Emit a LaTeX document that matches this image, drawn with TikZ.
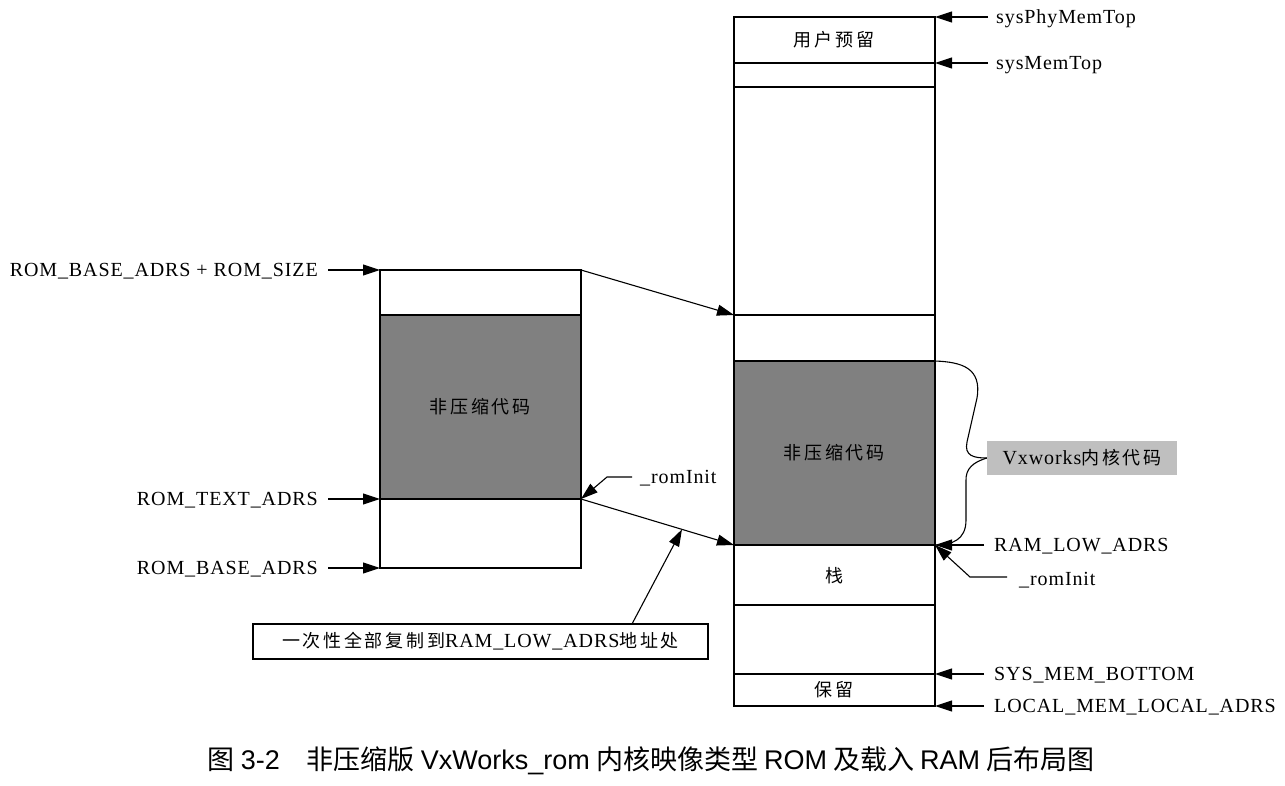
\documentclass[tikz,border=0pt]{standalone}
\usepackage{fontspec}
\setmainfont[LetterSpace=4.5]{Liberation Serif}
\newfontfamily\cjkFont[LetterSpace=15]{Noto Sans CJK SC}
\newfontfamily\captionCjk{Noto Sans CJK SC}
\newfontfamily\captionLatin{Liberation Sans}
\usetikzlibrary{positioning,calc,arrows.meta}
\tikzstyle{memMap} = [x = 1pt, y = -1pt]
\definecolor{codeGray}{RGB}{128,128,128}
\definecolor{tagGray}{RGB}{191,191,191}
\tikzstyle{cellStyle} = [draw=black, fill=white, line width=1.2pt]
\tikzstyle{codeCellStyle} = [draw=black, fill=codeGray, line width=1.2pt]
\tikzstyle{arrowLine} = [line width=1.1pt, -{Triangle[length=17pt, width=11pt]}]
\tikzstyle{plainLine} = [line width=1.1pt]
\tikzstyle{adrsLabel} = [font=\fontsize{20}{22}\selectfont, text height=13.5pt, text depth=0pt, inner xsep=10pt, inner ysep=2pt]
\tikzstyle{cellText} = [font=\fontsize{18}{20}\selectfont\cjkFont]
\tikzstyle{noteBox} = [draw=black, line width=1.2pt, minimum width=455pt, minimum height=35pt, inner sep=0pt, font=\fontsize{20}{22}\selectfont]
\tikzstyle{tagBox} = [fill=tagGray, minimum width=190pt, minimum height=34pt, inner sep=0pt, font=\fontsize{20}{22}\selectfont]
\newcommand{\memCell}[5]{\filldraw [#5] (#1,#2) rectangle (#3,#4);}
\newcommand{\zh}[1]{{\fontsize{18}{20}\selectfont\cjkFont #1}}

\begin{document}
\begin{tikzpicture}[memMap]
\useasboundingbox (0,0) rectangle (1285,785);
% ROM image
\memCell{380}{270}{581}{315}{cellStyle}
\memCell{380}{315}{581}{499}{codeCellStyle}
\memCell{380}{499}{581}{568}{cellStyle}
\node [cellText] (romCode) at (480,407) {非压缩代码};
% RAM layout
\foreach \cellTop/\cellBottom in {17/63, 63/87, 87/315, 315/361, 545/605, 605/674, 674/706} {
  \memCell{734}{\cellTop}{935}{\cellBottom}{cellStyle}
}
\memCell{734}{361}{935}{545}{codeCellStyle}
\node [cellText] (ramUser) at (834,40) {用户预留};
\node [cellText] (ramCode) at (834,453) {非压缩代码};
\node [cellText] (ramStack) at (834,576) {栈};
\node [cellText] (ramReserved) at (834,690) {保留};
% edge points
\coordinate (romTop) at (380,270);
\coordinate (romTopRight) at (581,270);
\coordinate (romText) at (380,499);
\coordinate (romTextRight) at (581,499);
\coordinate (romBase) at (380,568);
\coordinate (ramRomTop) at (734,315);
\coordinate (ramLowLeft) at (734,545);
\coordinate (ramPhyTop) at (935,17);
\coordinate (ramMemTop) at (935,63);
\coordinate (ramCodeTop) at (935,361);
\coordinate (ramLowRight) at (935,545);
\coordinate (ramSysBottom) at (935,674);
\coordinate (ramLocal) at (935,706);
% ROM addresses
\node [adrsLabel, anchor=east] (lblRomSize) at (328,270) {ROM\_BASE\_ADRS + ROM\_SIZE};
\node [adrsLabel, anchor=east] (lblRomText) at (328,499) {ROM\_TEXT\_ADRS};
\node [adrsLabel, anchor=east] (lblRomBase) at (328,568) {ROM\_BASE\_ADRS};
\draw [arrowLine] (lblRomSize) -- (romTop);
\draw [arrowLine] (lblRomText) -- (romText);
\draw [arrowLine] (lblRomBase) -- (romBase);
% RAM addresses
\node [adrsLabel, anchor=west, inner xsep=8pt] (lblPhyTop) at (988,17) {sysPhyMemTop};
\node [adrsLabel, anchor=west, inner xsep=8pt] (lblMemTop) at (988,63) {sysMemTop};
\node [adrsLabel, anchor=west] (lblLowAdrs) at (984,545) {RAM\_LOW\_ADRS};
\node [adrsLabel, anchor=west] (lblSysBottom) at (984,674) {SYS\_MEM\_BOTTOM};
\node [adrsLabel, anchor=west] (lblLocalAdrs) at (984,706) {LOCAL\_MEM\_LOCAL\_ADRS};
\draw [arrowLine] (lblPhyTop) -- (ramPhyTop);
\draw [arrowLine] (lblMemTop) -- (ramMemTop);
\draw [arrowLine] (lblLowAdrs) -- (ramLowRight);
\draw [arrowLine] (lblSysBottom) -- (ramSysBottom);
\draw [arrowLine] (lblLocalAdrs) -- (ramLocal);
% mapping ROM -> RAM
\draw [arrowLine] (romTopRight) -- (ramRomTop);
\draw [arrowLine] (romTextRight) -- (ramLowLeft);
% _romInit marks
\node [adrsLabel, anchor=west, inner xsep=8pt] (lblInitRom) at (632,477) {\_romInit};
\coordinate (initRomBend) at (607,477);
\draw [arrowLine] (lblInitRom) -- (initRomBend) -- (romTextRight);
\node [adrsLabel, anchor=west, inner xsep=12pt] (lblInitRam) at (1007,579) {\_romInit};
\coordinate (initRamBend) at (970,577);
\draw [arrowLine] (lblInitRam.west |- initRamBend) -- (initRamBend) -- (ramLowRight);
% copy note
\node [noteBox] (copyNote) at (480.5,641.5) {\zh{一次性全部复制到}RAM\_LOW\_ADRS\zh{地址处}};
\coordinate (copyFoot) at (632,624);
\coordinate (copyTarget) at ($(romTextRight)!0.66!(ramLowLeft)$);
\draw [arrowLine] (copyFoot) -- (copyTarget);
% kernel brace
\node [tagBox] (kernelTag) at (1082,458) {Vxworks\zh{内核代码}};
\draw [plainLine] (ramCodeTop) .. controls (962,362) and (982,368) .. (977,398)
  -- (967,442) .. controls (964,456) and (974,458) .. (kernelTag.west);
\draw [plainLine] (kernelTag.west) .. controls (974,462) and (965,468) .. (966,482)
  -- (966,520) .. controls (966,540) and (952,545) .. (ramLowRight);
% caption
\node (figCaption) at (651,761) {\fontsize{27}{30}\selectfont\captionCjk 图 {\captionLatin 3-2}\hspace{27pt}非压缩版 {\captionLatin VxWorks\_rom} 内核映像类型 {\captionLatin ROM} 及载入 {\captionLatin RAM} 后布局图};
\end{tikzpicture}
\end{document}
